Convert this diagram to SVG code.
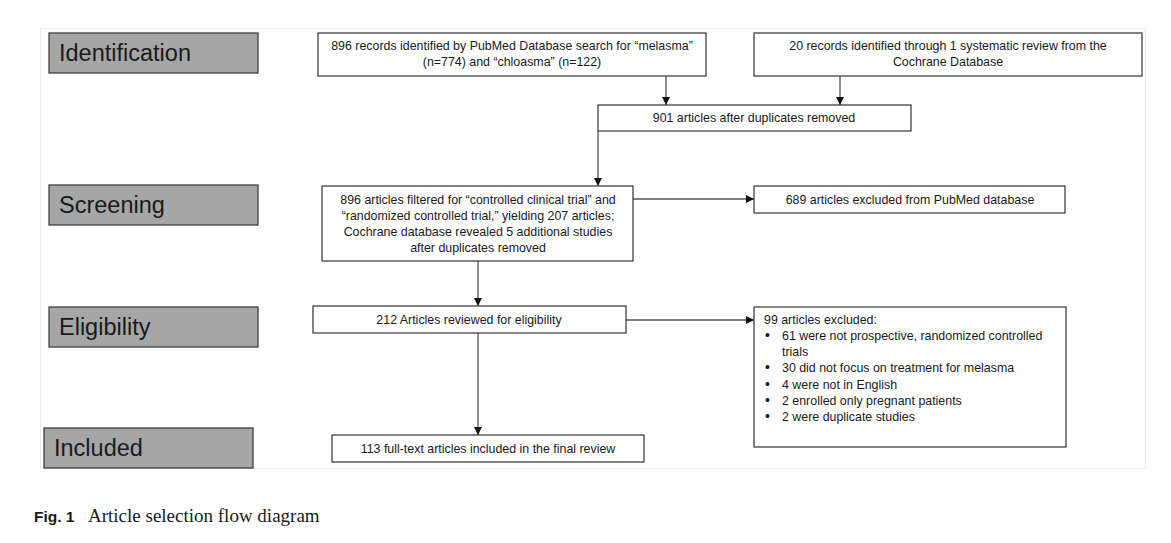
<svg xmlns="http://www.w3.org/2000/svg" width="1171" height="543" viewBox="0 0 1171 543">
<defs>
<marker id="ah" viewBox="0 0 10 10" refX="10" refY="5" markerWidth="8" markerHeight="8" markerUnits="userSpaceOnUse" orient="auto">
<path d="M0,0 L10,5 L0,10 z" fill="#111"/>
</marker>
<style>
.stage rect{fill:#a6a6a6;stroke:#404040;stroke-width:1.3}
.stage text{font-family:"Liberation Sans",Arial,sans-serif;font-size:23.5px;fill:#1a1a1a}
.box rect{fill:#fff;stroke:#333;stroke-width:1.2}
.box text{font-family:"Liberation Sans",Arial,sans-serif;font-size:12.4px;fill:#1a1a1a;text-anchor:middle}
.box text.l{text-anchor:start}
.box text.b{font-size:14px}
#connectors line{stroke:#555;stroke-width:1.3;marker-end:url(#ah)}
</style>
</defs>
<rect x="0" y="0" width="1171" height="543" fill="#fff"/>
<rect x="40.5" y="28.5" width="1105" height="440" fill="#fff" stroke="#ececec" stroke-width="1"/>

<g id="stage-identification" class="stage"><rect x="49" y="33" width="209" height="40"/><text x="59" y="61">Identification</text></g>
<g id="stage-screening" class="stage"><rect x="49" y="185" width="209" height="40"/><text x="59" y="213">Screening</text></g>
<g id="stage-eligibility" class="stage"><rect x="49" y="307" width="209" height="40"/><text x="59" y="335">Eligibility</text></g>
<g id="stage-included" class="stage"><rect x="44" y="428" width="209" height="40"/><text x="54" y="456">Included</text></g>

<g id="connectors">
<line x1="666" y1="76" x2="666" y2="105"/>
<line x1="840" y1="76" x2="840" y2="105"/>
<line x1="598" y1="131" x2="598" y2="186"/>
<line x1="633" y1="199" x2="754" y2="199"/>
<line x1="478" y1="261" x2="478" y2="306"/>
<line x1="626" y1="320" x2="754" y2="320"/>
<line x1="478" y1="333" x2="478" y2="435"/>
</g>

<g id="node-pubmed" class="box"><rect x="318" y="33" width="388" height="43"/>
<text x="512" y="50">896 records identified by PubMed Database search for “melasma”</text>
<text x="512" y="66">(n=774) and “chloasma” (n=122)</text></g>

<g id="node-cochrane" class="box"><rect x="754" y="33" width="388" height="43"/>
<text x="948" y="50">20 records identified through 1 systematic review from the</text>
<text x="948" y="66">Cochrane Database</text></g>

<g id="node-dedup" class="box"><rect x="598" y="105" width="313" height="26"/>
<text x="754" y="122">901 articles after duplicates removed</text></g>

<g id="node-filtered" class="box"><rect x="322" y="186" width="311" height="75"/>
<text x="478" y="204">896 articles filtered for “controlled clinical trial” and</text>
<text x="478" y="220">“randomized controlled trial,” yielding 207 articles;</text>
<text x="478" y="236">Cochrane database revealed 5 additional studies</text>
<text x="478" y="252">after duplicates removed</text></g>

<g id="node-excluded-pubmed" class="box"><rect x="754" y="186" width="311" height="27"/>
<text x="910" y="204">689 articles excluded from PubMed database</text></g>

<g id="node-eligibility" class="box"><rect x="313" y="306" width="313" height="27"/>
<text x="469" y="324">212 Articles reviewed for eligibility</text></g>

<g id="node-excluded" class="box"><rect x="754" y="307" width="312" height="140"/>
<text class="l" x="764" y="324">99 articles excluded:</text>
<text class="l b" x="765" y="340">•</text><text class="l" x="782" y="340">61 were not prospective, randomized controlled</text>
<text class="l" x="782" y="356">trials</text>
<text class="l b" x="765" y="372">•</text><text class="l" x="782" y="372">30 did not focus on treatment for melasma</text>
<text class="l b" x="765" y="389">•</text><text class="l" x="782" y="389">4 were not in English</text>
<text class="l b" x="765" y="405">•</text><text class="l" x="782" y="405">2 enrolled only pregnant patients</text>
<text class="l b" x="765" y="421">•</text><text class="l" x="782" y="421">2 were duplicate studies</text></g>

<g id="node-included" class="box"><rect x="332" y="435" width="312" height="27"/>
<text x="488" y="453">113 full-text articles included in the final review</text></g>

<g id="caption">
<text x="34" y="522" font-family="'Liberation Sans',Arial,sans-serif" font-weight="bold" font-size="15.5" fill="#1a1a1a">Fig. 1</text>
<text x="88" y="522" font-family="'Liberation Serif','Times New Roman',serif" font-size="19" fill="#1a1a1a">Article selection flow diagram</text>
</g>
</svg>
